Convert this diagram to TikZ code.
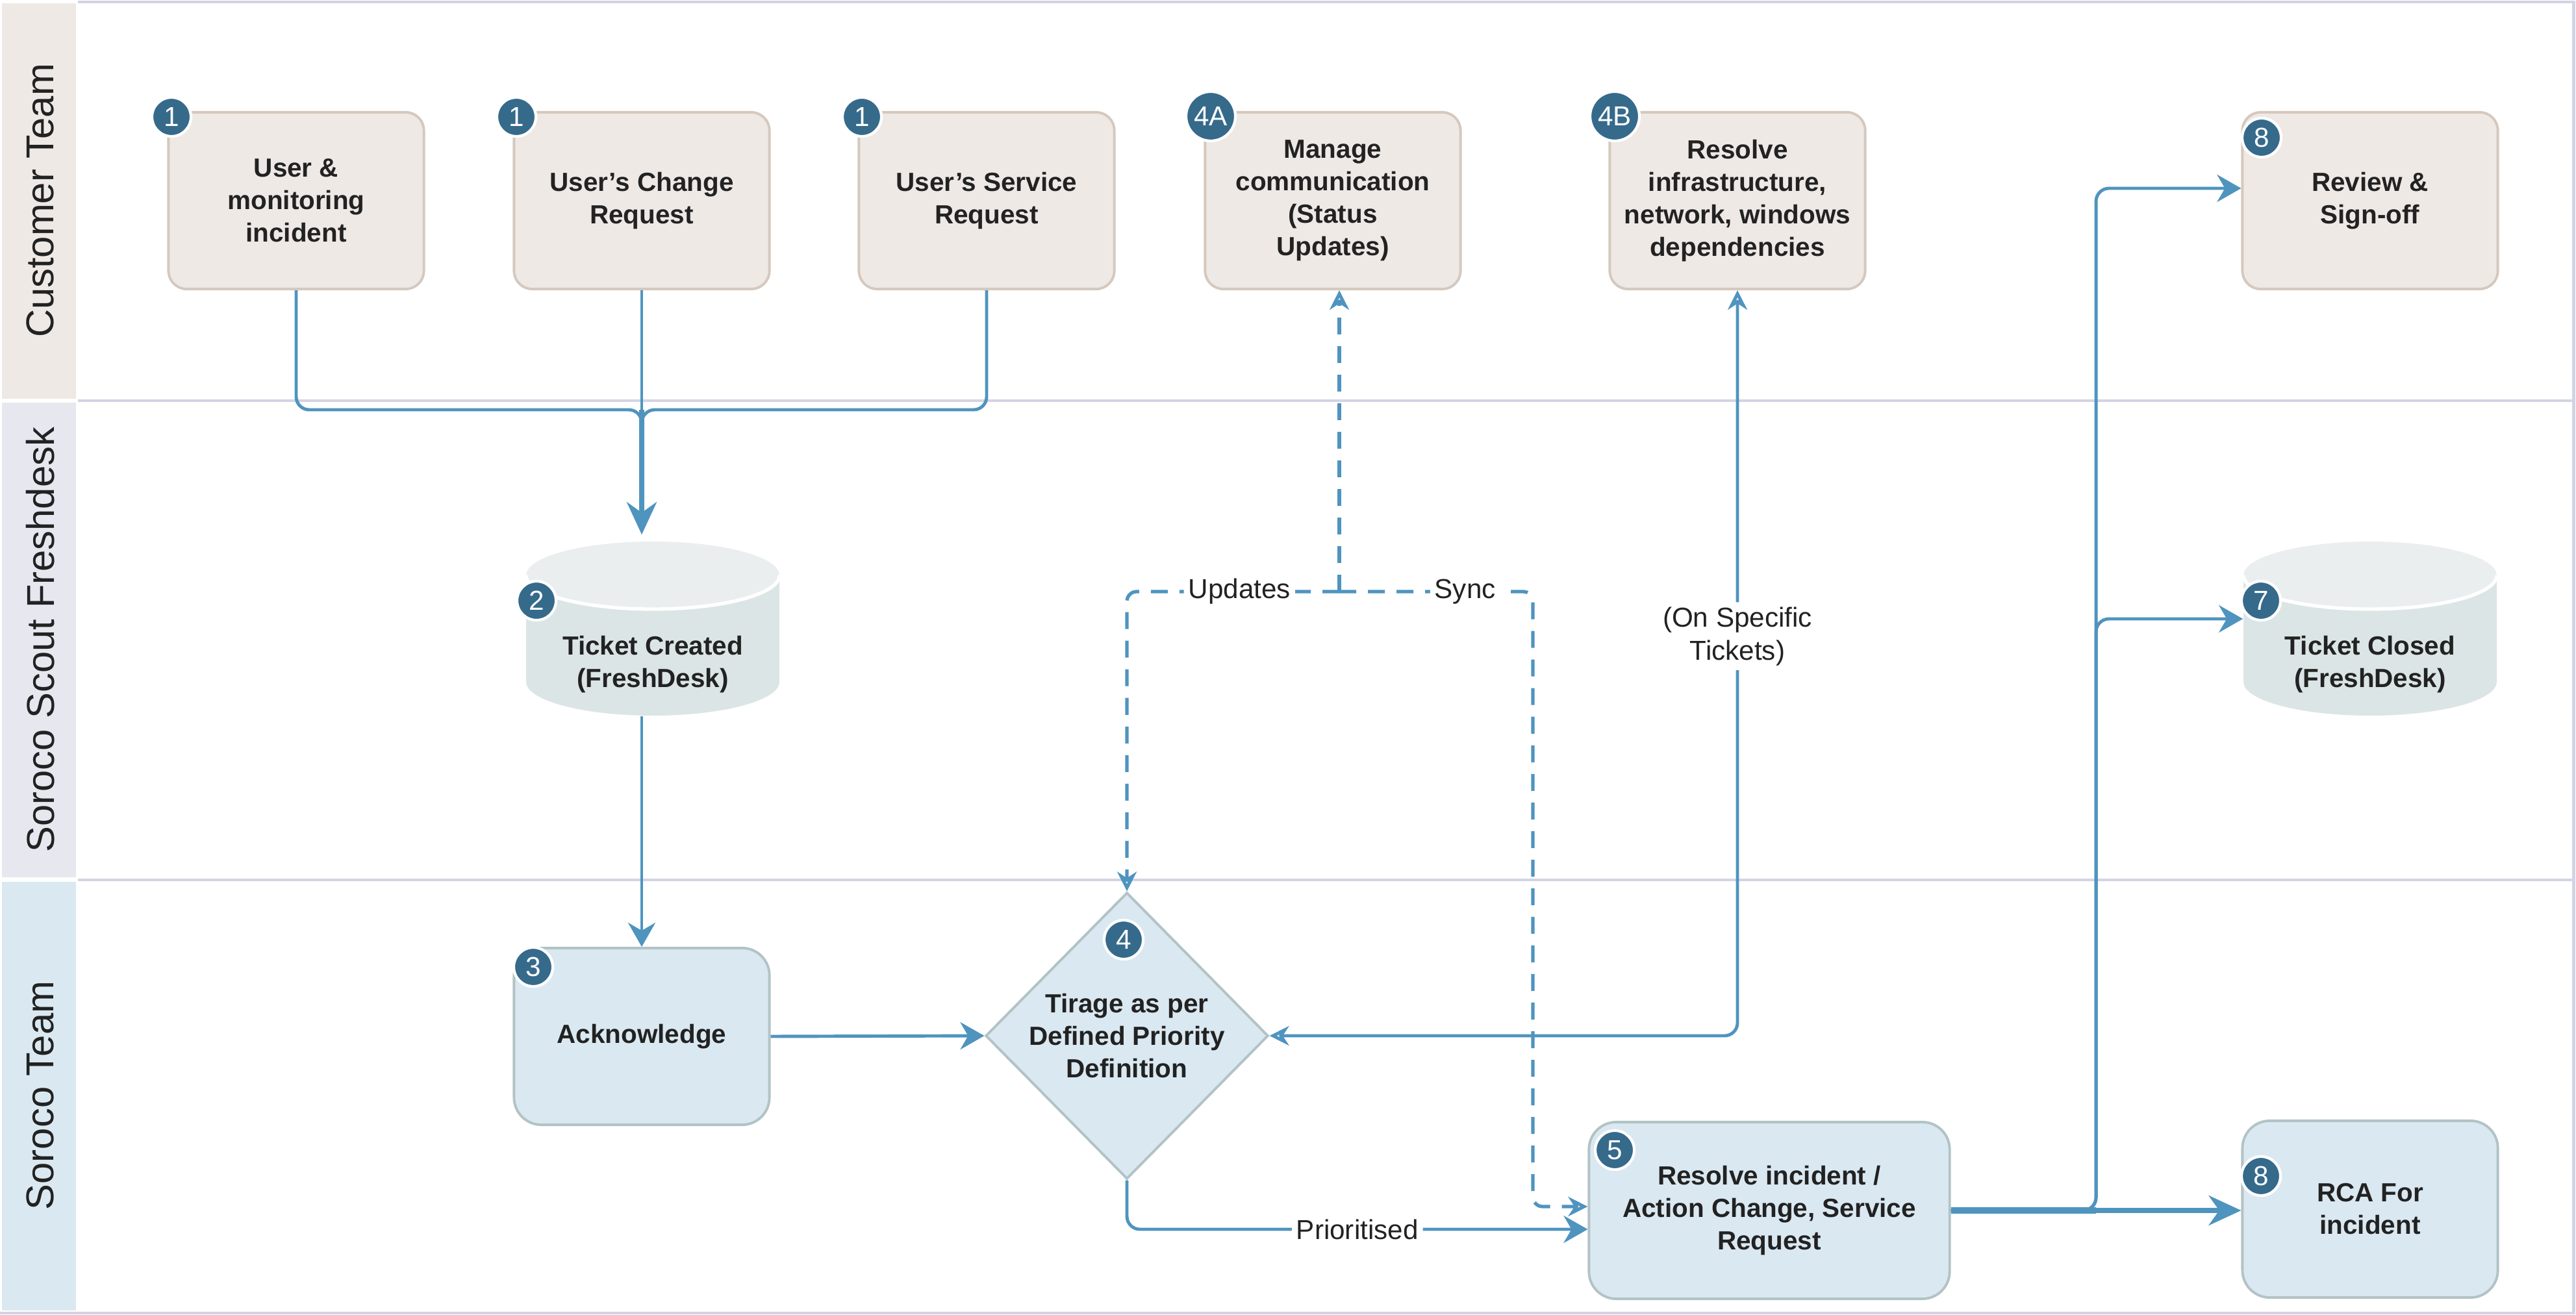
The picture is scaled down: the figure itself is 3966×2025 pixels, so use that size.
\documentclass[tikz,border=0pt]{standalone}
\usepackage{fontspec}
\setmainfont{Liberation Sans}
\usepackage{xcolor}
\usetikzlibrary{arrows.meta,positioning,shapes.geometric}
\definecolor{laneline}{HTML}{D2D4E4}
\definecolor{custfill}{HTML}{EEE9E5}
\definecolor{custedge}{HTML}{D5C8BE}
\definecolor{scoutfill}{HTML}{E7E7F0}
\definecolor{teamfill}{HTML}{DAE8F1}
\definecolor{teamedge}{HTML}{B2C3C5}
\definecolor{badgeblue}{HTML}{366A8B}
\definecolor{flowblue}{HTML}{4F94BF}
\definecolor{cyltop}{HTML}{EAEEEF}
\definecolor{cylbody}{HTML}{DCE5E5}
\definecolor{ink}{HTML}{222222}

\begin{document}
\begin{tikzpicture}[x=0.01cm, y=-0.01cm,
  custbox/.style={draw=custedge, fill=custfill, line width=1.1pt,
                  rounded corners=0.28cm, minimum width=3.93cm,
                  minimum height=2.72cm, align=center, text=ink,
                  font=\fontsize{11.5}{14.2}\selectfont\bfseries},
  teambox/.style={custbox, draw=teamedge, fill=teamfill,
                  rounded corners=0.42cm},
  decide/.style={diamond, draw=teamedge, fill=teamfill, line width=1.1pt,
                 minimum width=4.35cm, minimum height=4.41cm, inner sep=0pt,
                 align=center, text=ink,
                 font=\fontsize{11.5}{14.2}\selectfont\bfseries},
  cylnode/.style={minimum width=3.9cm, minimum height=2.68cm, inner sep=0pt},
  cyltext/.style={align=center, text=ink,
                  font=\fontsize{11.5}{14.2}\selectfont\bfseries},
  badge/.style={circle, fill=badgeblue, draw=white, line width=1.2pt,
                text=white, font=\fontsize{12}{12}\selectfont,
                minimum size=0.6cm, inner sep=0pt},
  lanetitle/.style={rotate=90, text=ink, font=\fontsize{17}{17}\selectfont},
  edgelabel/.style={fill=white, text=ink, inner sep=2pt, align=center,
                    font=\fontsize{12}{14.5}\selectfont},
  flow/.style={draw=flowblue, line width=1.4pt,
               -{Stealth[length=0.37cm, width=0.42cm]}},
  flowline/.style={draw=flowblue, line width=1.4pt},
  flowbig/.style={draw=flowblue, line width=2pt,
                  -{Stealth[length=0.5cm, width=0.46cm]}},
  bidir/.style={draw=flowblue, line width=1.4pt,
                {Stealth[open, length=0.3cm, width=0.3cm]}-{Stealth[open, length=0.3cm, width=0.3cm]}},
  syncedge/.style={draw=flowblue, line width=1.5pt,
                   dash pattern=on 0.26cm off 0.18cm,
                   -{Stealth[open, length=0.3cm, width=0.3cm]}}
]
  \path[use as bounding box] (0,0) rectangle (3966,2025);
  \fill[white] (0,0) rectangle (3966,2025);

  % lanes
  \fill[custfill] (3,5) rectangle (117,614);
  \fill[scoutfill] (3,620) rectangle (117,1351);
  \fill[teamfill] (3,1358) rectangle (117,2018);
  \draw[laneline, line width=1.4pt] (120,3) -- (3962,3) -- (3962,2022) -- (0,2022);
  \draw[laneline, line width=1.4pt] (120,617) -- (3962,617);
  \draw[laneline, line width=1.4pt] (120,1355) -- (3962,1355);
  \node[lanetitle] (laneCust) at (62,309) {Customer Team};
  \node[lanetitle] (laneScout) at (62,985) {Soroco Scout Freshdesk};
  \node[lanetitle] (laneTeam) at (62,1687) {Soroco Team};

  % customer team
  \node[custbox] (inc) at (456,309) {User \&\\monitoring\\incident};
  \node[custbox] (chg) at (988,309) {User’s Change\\Request};
  \node[custbox] (srv) at (1519,309) {User’s Service\\Request};
  \node[custbox] (comm) at (2052,309) {Manage\\communication\\(Status\\Updates)};
  \node[custbox] (infra) at (2675,309) {Resolve\\infrastructure,\\network, windows\\dependencies};
  \node[custbox] (review) at (3649,309) {Review \&\\Sign-off};

  % freshdesk cylinders
  \fill[cylbody] (810,886) -- (810,1050) arc[start angle=180, end angle=0, x radius=195, y radius=52] -- (1200,886) -- cycle;
  \fill[cyltop] (1005,886) ellipse[x radius=195, y radius=52];
  \draw[white, line width=1.5pt] (810,886) arc[start angle=180, end angle=0, x radius=195, y radius=52];
  \node[cylnode] (created) at (1005,968) {};
  \node[cyltext] (createdText) at (1005,1023) {Ticket Created\\(FreshDesk)};

  \fill[cylbody] (3454,886) -- (3454,1050) arc[start angle=180, end angle=0, x radius=195, y radius=52] -- (3844,886) -- cycle;
  \fill[cyltop] (3649,886) ellipse[x radius=195, y radius=52];
  \draw[white, line width=1.5pt] (3454,886) arc[start angle=180, end angle=0, x radius=195, y radius=52];
  \node[cylnode] (closed) at (3649,968) {};
  \node[cyltext] (closedText) at (3649,1023) {Ticket Closed\\(FreshDesk)};

  % soroco team
  \node[teambox] (ack) at (988,1596) {Acknowledge};
  \node[decide] (triage) at (1735,1595) {Tirage as per\\Defined Priority\\Definition};
  \node[teambox, minimum width=5.55cm] (resolve) at (2724,1864) {Resolve incident /\\Action Change, Service\\Request};
  \node[teambox] (rca) at (3649,1862) {RCA For\\incident};

  % step badges
  \node[badge] (bInc) at (264,180) {1};
  \node[badge] (bChg) at (795,180) {1};
  \node[badge] (bSrv) at (1327,180) {1};
  \node[badge, minimum size=0.76cm] (bComm) at (1864,179) {4A};
  \node[badge, minimum size=0.76cm] (bInfra) at (2486,179) {4B};
  \node[badge] (bReview) at (3482,212) {8};
  \node[badge] (bCreated) at (826,925) {2};
  \node[badge] (bClosed) at (3481,925) {7};
  \node[badge] (bAck) at (821,1489) {3};
  \node[badge] (bTriage) at (1730,1447) {4};
  \node[badge] (bResolve) at (2486,1771) {5};
  \node[badge] (bRca) at (3481,1811) {8};

  % connectors
  \coordinate (merge) at (988,631);
  \coordinate (split) at (2062,911);
  \coordinate (syncturn) at (2360,911);
  \coordinate (fork) at (3227,1864);

  \draw[flowline, rounded corners=0.2cm] (inc.south) |- (merge) -- ++(0,40);
  \draw[flowline, rounded corners=0.2cm] (srv.south) |- (merge) -- ++(0,40);
  \draw[flowline] (chg.south) -- (merge);
  \draw[flowbig, shorten >=0.1cm] (merge) -- (merge |- created.north);
  \draw[flow] (ack.north |- created.south) -- (ack.north);
  \draw[flow] (ack.east) -- (triage.west);
  \draw[bidir, rounded corners=0.2cm] (infra.south) |-
    node[edgelabel, pos=0.232] (lbTick) {(On Specific\\Tickets)} (triage.east);

  \draw[syncedge] (split) -- (split |- comm.south);
  \draw[syncedge, rounded corners=0.15cm] (split) -|
    node[edgelabel, pos=0.235] (lbUpd) {Updates} (triage.north);
  \draw[syncedge, rounded corners=0.15cm] (split) --
    node[edgelabel, pos=0.65] (lbSync) {Sync} (syncturn) |- ([yshift=0.06cm]resolve.west);
  \draw[flow, rounded corners=0.2cm] (triage.south) |-
    node[edgelabel, pos=0.75] (lbPrio) {Prioritised} ([yshift=-0.29cm]resolve.west);

  \draw[draw=flowblue, line width=2.6pt] (resolve.east) -- (fork);
  \draw[flowbig] (resolve.east) -- (resolve.east -| rca.west);
  \draw[flow, rounded corners=0.2cm] (resolve.east) -- (fork) |- ([yshift=0.15cm]closed.west);
  \draw[flow, rounded corners=0.2cm] (resolve.east) -- (fork) |- ([yshift=0.19cm]review.west);
\end{tikzpicture}
\end{document}
